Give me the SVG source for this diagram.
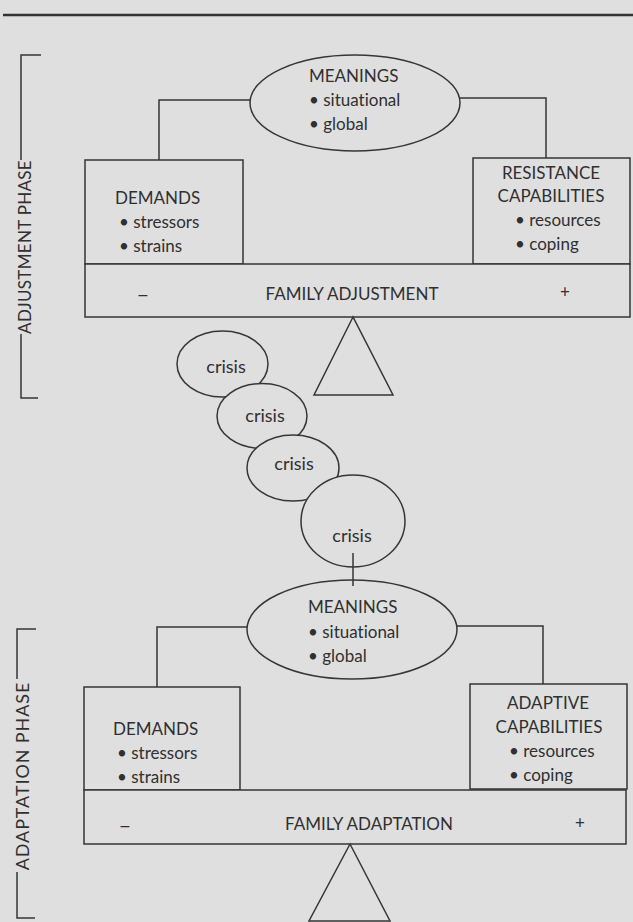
<svg xmlns="http://www.w3.org/2000/svg" width="633" height="922" viewBox="0 0 633 922">
<style>
  .ln { stroke: #363636; stroke-width: 1.5; fill: none; }
  .sh { stroke: #363636; stroke-width: 1.5; fill: #dfdfdf; }
  text { font-family: Lato, "Open Sans", "DejaVu Sans", sans-serif; font-size: 17px; fill: #303030; font-variant-ligatures: none; font-feature-settings: "liga" 0; }
  .mid { text-anchor: middle; }
  .dash { font-size: 22px; text-anchor: middle; }
  .crisis { font-size: 18px; text-anchor: middle; }
  .phase { font-size: 17px; text-anchor: middle; letter-spacing: 0.3px; }
  .phase2 { font-size: 18px; text-anchor: middle; letter-spacing: 0.9px; }
</style>
<rect x="0" y="0" width="633" height="922" fill="#dfdfdf"/>
<line x1="3" y1="15" x2="633" y2="15" stroke="#333333" stroke-width="2.5"/>

<g id="adjustment-phase">
  <path class="ln" d="M41,55 H21 V160 M21,334 V398 H38"/>
  <text class="phase" transform="translate(31,247) rotate(-90)">ADJUSTMENT  PHASE</text>
</g>
<g id="adaptation-phase">
  <path class="ln" d="M36,629 H17 V679 M17,872 V918 H35"/>
  <text class="phase2" transform="translate(29,776) rotate(-90)">ADAPTATION PHASE</text>
</g>

<g id="connectors">
  <path class="ln" d="M250,100 H159 V160"/>
  <path class="ln" d="M460,98 H546 V158"/>
  <path class="ln" d="M247,627 H157 V687"/>
  <path class="ln" d="M457,626 H543 V684"/>
</g>

<g id="meanings-1">
  <ellipse class="sh" cx="355" cy="103" rx="105" ry="48"/>
  <text x="309" y="82">MEANINGS</text>
  <text x="309" y="106">• situational</text>
  <text x="309" y="130">• global</text>
</g>
<g id="demands-1">
  <rect class="sh" x="85" y="160" width="158" height="104"/>
  <text x="115" y="204">DEMANDS</text>
  <text x="119" y="228">• stressors</text>
  <text x="119" y="252">• strains</text>
</g>
<g id="resistance-capabilities">
  <rect class="sh" x="473" y="158" width="157" height="106"/>
  <text class="mid" x="551" y="179">RESISTANCE</text>
  <text class="mid" x="551" y="202">CAPABILITIES</text>
  <text x="515" y="226">• resources</text>
  <text x="515" y="250">• coping</text>
</g>
<g id="family-adjustment">
  <rect class="sh" x="85" y="264" width="545" height="53"/>
  <text class="dash" x="143" y="302">–</text>
  <text class="mid" x="352" y="300">FAMILY ADJUSTMENT</text>
  <text class="mid" x="565" y="298">+</text>
</g>
<g id="fulcrum-1">
  <polygon class="sh" points="353,317 314,395 393,395"/>
</g>

<g id="crisis-1">
  <ellipse class="sh" cx="222.5" cy="364" rx="45.5" ry="33"/>
  <text class="crisis" x="226" y="373">crisis</text>
</g>
<g id="crisis-2">
  <ellipse class="sh" cx="262" cy="416" rx="45" ry="32.5"/>
  <text class="crisis" x="265" y="422">crisis</text>
</g>
<g id="crisis-3">
  <ellipse class="sh" cx="293" cy="468" rx="46" ry="33"/>
  <text class="crisis" x="294" y="470">crisis</text>
</g>
<g id="crisis-4">
  <ellipse class="sh" cx="353" cy="521" rx="52" ry="46"/>
  <text class="crisis" x="352" y="542">crisis</text>
</g>

<g id="meanings-2">
  <ellipse class="sh" cx="352" cy="629.5" rx="105" ry="49.5"/>
  <text x="308" y="613">MEANINGS</text>
  <text x="308" y="638">• situational</text>
  <text x="308" y="662">• global</text>
</g>
<g id="crisis-link">
  <line class="ln" x1="353" y1="553" x2="353" y2="586"/>
</g>
<g id="demands-2">
  <rect class="sh" x="84" y="687" width="156" height="103"/>
  <text x="113" y="735">DEMANDS</text>
  <text x="117" y="759">• stressors</text>
  <text x="117" y="783">• strains</text>
</g>
<g id="adaptive-capabilities">
  <rect class="sh" x="470" y="684" width="157" height="105"/>
  <text class="mid" x="548" y="709">ADAPTIVE</text>
  <text class="mid" x="549" y="733">CAPABILITIES</text>
  <text x="509" y="757">• resources</text>
  <text x="509" y="781">• coping</text>
</g>
<g id="family-adaptation">
  <rect class="sh" x="84" y="790" width="542" height="54"/>
  <text class="dash" x="125" y="833">–</text>
  <text class="mid" x="369" y="830">FAMILY ADAPTATION</text>
  <text class="mid" x="580" y="829">+</text>
</g>
<g id="fulcrum-2">
  <polygon class="sh" points="350,844 309,921 390,921"/>
</g>
</svg>
